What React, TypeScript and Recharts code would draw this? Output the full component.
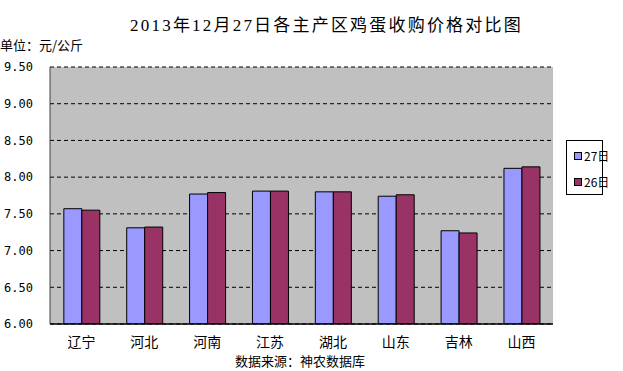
import React from "react";
import { BarChart, Bar, XAxis, YAxis, CartesianGrid } from "recharts";

const title = "2013年12月27日各主产区鸡蛋收购价格对比图";
const unitLabel = "单位：元/公斤";
const sourceLabel = "数据来源：神农数据库";
const regions = ["辽宁", "河北", "河南", "江苏", "湖北", "山东", "吉林", "山西"];
const seriesNames = ["27日", "26日"];
const values27 = [7.57, 7.31, 7.77, 7.81, 7.8, 7.74, 7.27, 8.12];
const values26 = [7.55, 7.32, 7.79, 7.81, 7.8, 7.76, 7.24, 8.14];
const yTicks = [6.0, 6.5, 7.0, 7.5, 8.0, 8.5, 9.0, 9.5];
const colors = ["#9999FF", "#993366"];

const data = regions.map((r, i) => ({ name: r, d27: values27[i], d26: values26[i] }));

const cjk = '"Noto Sans CJK SC", "DejaVu Sans", sans-serif';

export default function App() {
  return (
    <div style={{ position: "absolute", left: 0, top: 0, width: 623, height: 371, background: "#fff" }}>
      <div
        style={{
          position: "absolute",
          left: 0,
          width: 653,
          top: 14,
          textAlign: "center",
          fontFamily: '"Liberation Serif", "Noto Sans CJK SC", serif',
          fontSize: 17,
          letterSpacing: 2.2,
          lineHeight: "24px",
          color: "#000",
          whiteSpace: "nowrap",
        }}
      >
        {title}
      </div>
      <div
        style={{
          position: "absolute",
          left: 0,
          top: 36,
          fontFamily: cjk,
          fontSize: 13,
          lineHeight: "18px",
          color: "#000",
          whiteSpace: "nowrap",
        }}
      >
        {unitLabel}
      </div>
      <BarChart
        width={623}
        height={371}
        data={data}
        margin={{ top: 67, right: 70, bottom: 17, left: 0 }}
        barCategoryGap="22%"
        barGap={0}
      >
        <CartesianGrid
          vertical={false}
          fill="#C0C0C0"
          fillOpacity={1}
          stroke="#000"
          strokeDasharray="4 3"
          horizontalValues={yTicks}
        />
        <XAxis
          dataKey="name"
          height={30}
          tickLine={false}
          tickSize={0}
          tickMargin={13}
          axisLine={{ stroke: "#000", strokeWidth: 1.5 }}
          tick={{ fontSize: 14, fill: "#000", fontFamily: cjk }}
          interval={0}
        />
        <YAxis
          width={50}
          domain={[6, 9.5]}
          ticks={yTicks}
          tickFormatter={(v: number) => v.toFixed(2)}
          tickLine={false}
          tickSize={0}
          tickMargin={17}
          axisLine={{ stroke: "#404040", strokeWidth: 1 }}
          tick={{ fontSize: 12, fill: "#000", fontFamily: '"DejaVu Sans Mono", monospace' }}
          allowDataOverflow
        />
        <YAxis
          yAxisId="r"
          orientation="right"
          width={0}
          domain={[6, 9.5]}
          tick={false}
          tickLine={false}
          axisLine={{ stroke: "#808080", strokeDasharray: "2 2" }}
        />
        <Bar dataKey="d27" name={seriesNames[0]} fill={colors[0]} stroke="#000" strokeWidth={1} isAnimationActive={false} />
        <Bar dataKey="d26" name={seriesNames[1]} fill={colors[1]} stroke="#000" strokeWidth={1} isAnimationActive={false} />
      </BarChart>
      <div
        style={{
          position: "absolute",
          left: 566,
          top: 140,
          width: 35,
          height: 53,
          border: "1px solid #000",
          background: "#fff",
        }}
      >
        {seriesNames.map((n, i) => (
          <div
            key={n}
            style={{
              position: "absolute",
              left: 7,
              top: 7 + i * 26,
              display: "flex",
              alignItems: "center",
              fontFamily: cjk,
              fontSize: 12,
              lineHeight: "16px",
              whiteSpace: "nowrap",
            }}
          >
            <span
              style={{
                display: "inline-block",
                width: 6,
                height: 6,
                background: colors[i],
                border: "1px solid #000",
                marginRight: 2,
              }}
            />
            <span>{n}</span>
          </div>
        ))}
      </div>
      <div
        style={{
          position: "absolute",
          left: 0,
          width: 600,
          top: 352,
          textAlign: "center",
          fontFamily: cjk,
          fontSize: 13,
          lineHeight: "18px",
          color: "#000",
          whiteSpace: "nowrap",
        }}
      >
        {sourceLabel}
      </div>
    </div>
  );
}
